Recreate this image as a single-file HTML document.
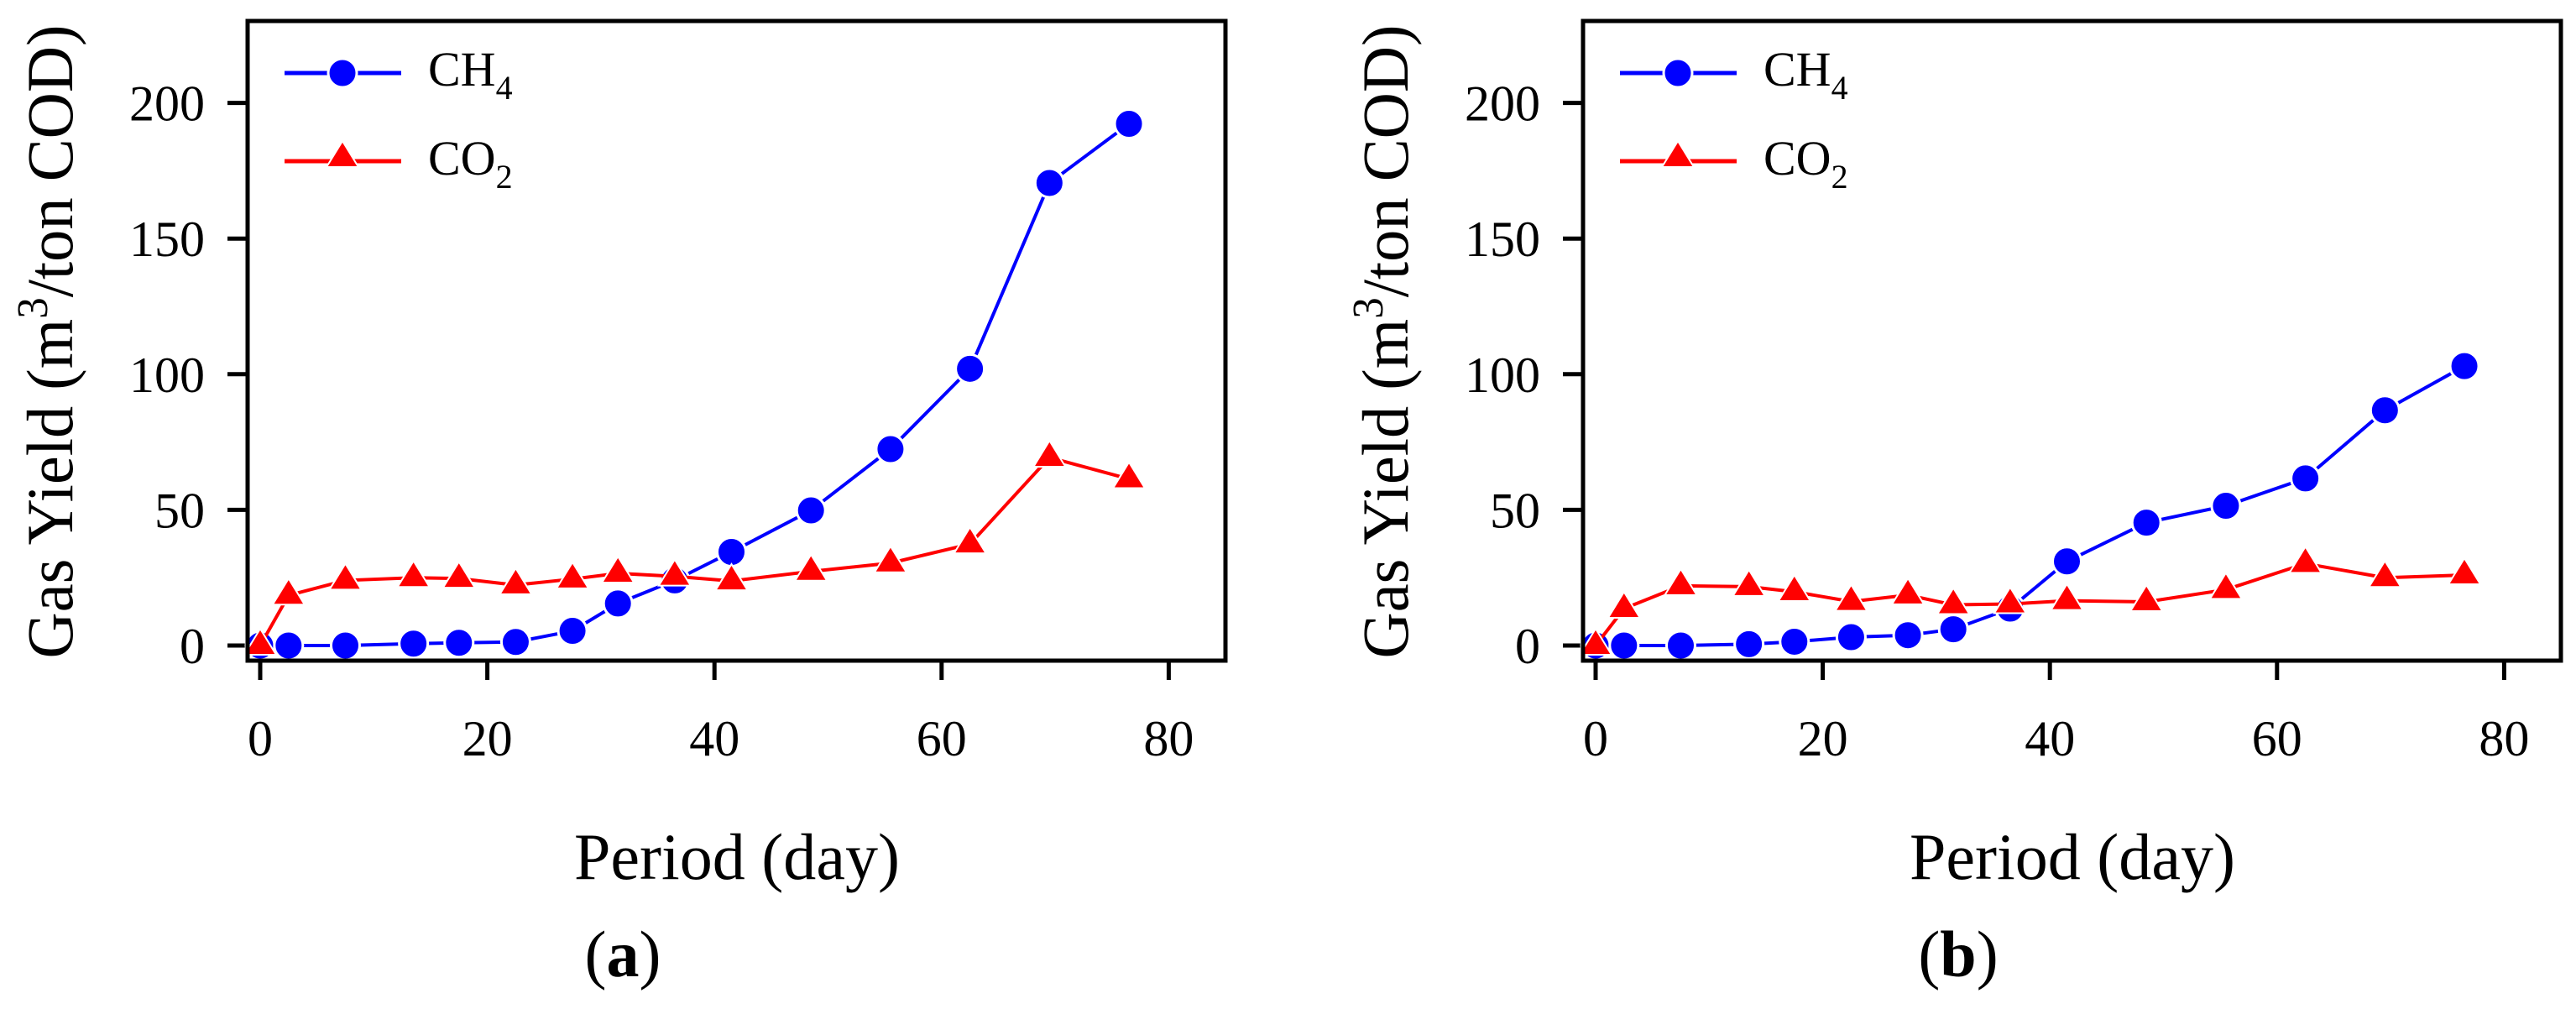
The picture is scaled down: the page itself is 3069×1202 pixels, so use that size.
<!DOCTYPE html>
<html><head><meta charset="utf-8"><style>
html,body{margin:0;padding:0;background:#fff;}
svg{display:block;font-family:"Liberation Serif",serif;}
</style></head><body>
<svg id="fig" width="3069" height="1202" viewBox="0 0 3069 1202" xmlns="http://www.w3.org/2000/svg"></svg>
<script>
const days = [0, 2.5, 7.5, 13.5, 17.5, 22.5, 27.5, 31.5, 36.5, 41.5, 48.5, 55.5, 62.5, 69.5, 76.5];
const ch4A = [0, 0, 0, 0.7, 1, 1.3, 5.4, 15.5, 24, 34.5, 49.8, 72.4, 102, 170.5, 192.3];
const co2A = [0, 18.5, 24, 25, 24.7, 22.3, 24.5, 26.6, 25.5, 23.8, 27.3, 30.4, 37.4, 69.3, 61.4];
const ch4B = [0, 0, 0, 0.5, 1.4, 3.1, 3.8, 6, 13.6, 31, 45.3, 51.5, 61.6, 86.7, 103];
const co2B = [0, 13.6, 22, 21.7, 19.8, 16.2, 18.6, 15, 15.3, 16.5, 16.1, 20.6, 30.2, 25, 26];
const xTicks = [0, 20, 40, 60, 80];
const yTicks = [0, 50, 100, 150, 200];
const panelLabels = ["a", "b"];

const NS = "http://www.w3.org/2000/svg";
const svg = document.getElementById("fig");
function mk(tag, attrs, parent, text) {
  const e = document.createElementNS(NS, tag);
  for (const k in attrs) e.setAttribute(k, attrs[k]);
  if (text !== undefined) e.textContent = text;
  (parent || svg).appendChild(e);
  return e;
}

function drawPanel(off, ch4, co2, label, idx) {
  const g = mk("g", {});
  
  
  const xs = v => off + 310 + v * 13.53;
  const ys = v => 769 - v * 3.232;
  const L = off + 295, R = off + 1460, T = 25, B = 787;

  // y-axis title
  const yt = mk("text", {x: 0, y: 0, "font-size": 78, transform: `translate(${off + 86},${407}) rotate(-90)`, "text-anchor": "middle", textLength: 755, lengthAdjust: "spacingAndGlyphs"}, g);
  
  
  mk("tspan", {}, yt, "Gas Yield (m");
  mk("tspan", {"font-size": 52, dy: -30}, yt, "3");
  mk("tspan", {dy: 30}, yt, "/ton COD)");

  // y ticks
  yTicks.forEach(t => {
    const tk = mk("line", {x1: L - 24, x2: L, y1: ys(t), y2: ys(t), stroke: "#000", "stroke-width": 5}, g);
    
    
    const tl = mk("text", {x: off + 244, y: ys(t) + 21, "font-size": 60, "text-anchor": "end"}, g, String(t));
    
    
  });
  // x ticks
  xTicks.forEach(t => {
    const tk = mk("line", {x1: xs(t), x2: xs(t), y1: B, y2: B + 23, stroke: "#000", "stroke-width": 5}, g);
    
    
    const tl = mk("text", {x: xs(t), y: 900, "font-size": 60, "text-anchor": "middle"}, g, String(t));
    
    
  });
  const xt = mk("text", {x: off + 878, y: 1047, "font-size": 78, "text-anchor": "middle", textLength: 388, lengthAdjust: "spacingAndGlyphs"}, g, "Period (day)");
  
  
  const pl = mk("text", {x: off + 742, y: 1163, "font-size": 78, "text-anchor": "middle"}, g);
  
  
  mk("tspan", {}, pl, "(");
  mk("tspan", {"font-weight": "bold"}, pl, label);
  mk("tspan", {}, pl, ")");

  // series
  const tri = (cx, cy) => `${cx},${cy - 20} ${cx - 19},${cy + 11} ${cx + 19},${cy + 11}`;
  const ptsStr = arr => arr.map((v, i) => xs(days[i]) + "," + ys(v)).join(" ");
  const l1 = mk("polyline", {points: ptsStr(ch4), fill: "none", stroke: "#0000ff", "stroke-width": 4}, g);
  
  
  ch4.forEach((v, i) => {
    const c = mk("circle", {cx: xs(days[i]), cy: ys(v), r: 17, fill: "#0000ff", stroke: "#fff", "stroke-width": 3}, g);
    
    
  });
  const l2 = mk("polyline", {points: ptsStr(co2), fill: "none", stroke: "#ff0000", "stroke-width": 4}, g);
  
  
  co2.forEach((v, i) => {
    const p = mk("polygon", {points: tri(xs(days[i]), ys(v)), fill: "#ff0000", stroke: "#fff", "stroke-width": 2}, g);
    
    
  });

  // frame
  const fr = mk("rect", {x: L, y: T, width: R - L, height: B - T, fill: "none", stroke: "#000", "stroke-width": 5}, g);
  
  

  // legend
  const lg = mk("g", {}, g);
  
  
  const e1 = mk("g", {}, lg);
  
  
  mk("line", {x1: off + 339, x2: off + 478, y1: 87, y2: 87, stroke: "#0000ff", "stroke-width": 5}, e1);
  mk("circle", {cx: off + 408, cy: 87, r: 17, fill: "#0000ff", stroke: "#fff", "stroke-width": 3}, e1);
  const t1 = mk("text", {x: off + 510, y: 102, "font-size": 58}, e1);
  mk("tspan", {}, t1, "CH");
  mk("tspan", {"font-size": 40, dy: 16}, t1, "4");
  const e2 = mk("g", {}, lg);
  
  
  mk("line", {x1: off + 339, x2: off + 478, y1: 192, y2: 192, stroke: "#ff0000", "stroke-width": 5}, e2);
  mk("polygon", {points: tri(off + 408, 188), fill: "#ff0000", stroke: "#fff", "stroke-width": 2}, e2);
  const t2 = mk("text", {x: off + 510, y: 208, "font-size": 58}, e2);
  mk("tspan", {}, t2, "CO");
  mk("tspan", {"font-size": 40, dy: 16}, t2, "2");
}
drawPanel(0, ch4A, co2A, panelLabels[0], 0);
drawPanel(1591, ch4B, co2B, panelLabels[1], 1);
</script>
</body></html>
